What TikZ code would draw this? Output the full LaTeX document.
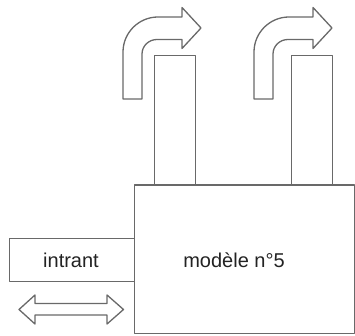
\documentclass[tikz,border=0pt]{standalone}
\usepackage{fontspec}
\setmainfont{Liberation Sans}
\definecolor{linegray}{RGB}{105,105,105}
\definecolor{textgray}{RGB}{35,35,35}
\tikzset{
  outline/.style={draw=linegray, line width=1.3pt, fill=white, line join=round},
  boxnode/.style={outline, inner sep=0pt, anchor=north west},
  lbl/.style={text=textgray, font=\fontsize{20}{24}\selectfont, inner sep=0pt, anchor=base},
  bentarrow/.pic={
    \draw[outline] (123,99) -- (123,52)
      .. controls (123,32.7) and (138.7,17) .. (158,17)
      -- (182,17) -- (182,7.5) -- (201,28) -- (182,48.5) -- (182,39.5)
      -- (157,39.5) .. controls (148.7,39.5) and (142,46) .. (142,54)
      -- (142,99) -- cycle;
  }
}
\begin{document}
\begin{tikzpicture}[x=1pt,y=-1pt]
\useasboundingbox (0,0) rectangle (355,336);
% chimneys
\node[boxnode, minimum width=41pt, minimum height=129.5pt] (ch1) at (153.5,55) {};
\node[boxnode, minimum width=41.5pt, minimum height=129.5pt] (ch2) at (290.5,55) {};
% main box
\node[boxnode, minimum width=220pt, minimum height=148pt] (main) at (133.5,184.5) {};
% input box
\node[boxnode, minimum width=125pt, minimum height=43.5pt] (intrant) at (8.5,237.5) {};
% labels
\node[lbl] (tin) at (71,267.7) {intrant};
\node[lbl] (tmain) at (234,267.7) {modèle n°5};
% bent arrows
\pic (ba1) at (0,0) {bentarrow};
\pic (ba2) at (131,0) {bentarrow};
% double arrow
\draw[outline] (19,309.5) -- (35,295) -- (35,303.5) -- (107,303.5) -- (107,295)
  -- (123.5,309.5) -- (107,324) -- (107,315) -- (35,315) -- (35,324) -- cycle;
\end{tikzpicture}
\end{document}
